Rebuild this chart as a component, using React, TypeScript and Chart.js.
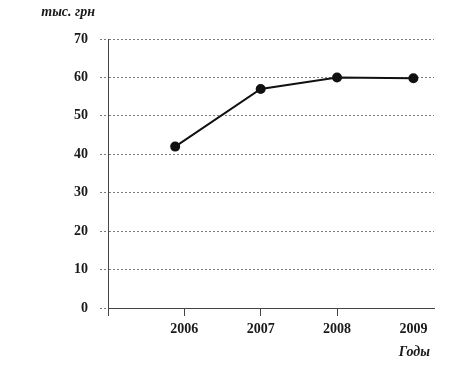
import React, { useEffect, useRef } from "react";
import { Chart, registerables } from "chart.js";

Chart.register(...registerables);

const years = [2006, 2007, 2008, 2009];
// x positions of the markers as drawn in the picture (first marker sits slightly left of its tick)
const pointX = [2005.88, 2007, 2008, 2009];
const values = [42, 57, 60, 59.8];
const yTicks = [0, 10, 20, 30, 40, 50, 60, 70];
const yUnit = "тыс. грн";
const xUnit = "Годы";

const FONT = "'Liberation Serif', 'DejaVu Serif', serif";

export default function App() {
  const ref = useRef<HTMLCanvasElement | null>(null);
  useEffect(() => {
    document.body.style.margin = "0";
    const canvas = ref.current;
    if (!canvas) return;
    const textPlugin = {
      id: "unitText",
      afterDraw(chart: any) {
        const { ctx, chartArea } = chart;
        ctx.save();
        ctx.fillStyle = "#1a1a1a";
        ctx.font = `italic bold 14px ${FONT}`;
        ctx.textAlign = "right";
        ctx.textBaseline = "middle";
        ctx.fillText(yUnit, chartArea.left - 13, 12);
        ctx.fillText(xUnit, chartArea.right - 4, 352);
        ctx.restore();
      },
    };
    const chart = new Chart(canvas, {
      type: "line",
      data: {
        datasets: [
          {
            data: values.map((v, i) => ({ x: pointX[i], y: v })),
            borderColor: "#111",
            backgroundColor: "#111",
            borderWidth: 2,
            pointRadius: 4,
            pointBackgroundColor: "#111",
            pointBorderColor: "#111",
            tension: 0,
          },
        ],
      },
      options: {
        animation: false,
        responsive: false,
        maintainAspectRatio: false,
        layout: { padding: { top: 39, right: 38, left: 0, bottom: 0 } },
        plugins: {
          legend: { display: false },
          tooltip: { enabled: false },
        },
        scales: {
          x: {
            type: "linear",
            min: 2005,
            max: 2009.27,
            afterFit(scale: any) {
              scale.height = 57;
            },
            afterBuildTicks(scale: any) {
              scale.ticks = [2005, ...years].map((v) => ({ value: v }));
            },
            ticks: {
              padding: 5,
              color: "#1a1a1a",
              font: { family: FONT, size: 14, weight: "bold" },
              callback: (v: any) => (years.includes(Number(v)) ? String(v) : ""),
              maxRotation: 0,
              autoSkip: false,
            },
            grid: {
              drawOnChartArea: false,
              drawTicks: true,
              tickLength: 8,
              color: (c: any) => (c.tick && c.tick.value === 2009 ? "rgba(0,0,0,0)" : "#444"),
              lineWidth: 1,
            },
            border: { display: true, color: "#444", width: 1 },
          },
          y: {
            min: 0,
            max: 70,
            afterFit(scale: any) {
              scale.width = 108;
            },
            afterBuildTicks(scale: any) {
              scale.ticks = yTicks.map((v) => ({ value: v }));
            },
            ticks: {
              padding: 12,
              color: "#1a1a1a",
              font: { family: FONT, size: 14, weight: "bold" },
            },
            grid: {
              color: "#7a7a7a",
              lineWidth: 1,
              drawTicks: true,
              tickLength: 8,
              tickColor: "#7a7a7a",
              tickBorderDash: [2, 2],
            },
            border: { display: true, color: "#444", width: 1, dash: [2, 2] },
          },
        },
      },
      plugins: [textPlugin],
    } as any);
    return () => chart.destroy();
  }, []);
  return <canvas ref={ref} width={472} height={365} style={{ display: "block" }} />;
}
